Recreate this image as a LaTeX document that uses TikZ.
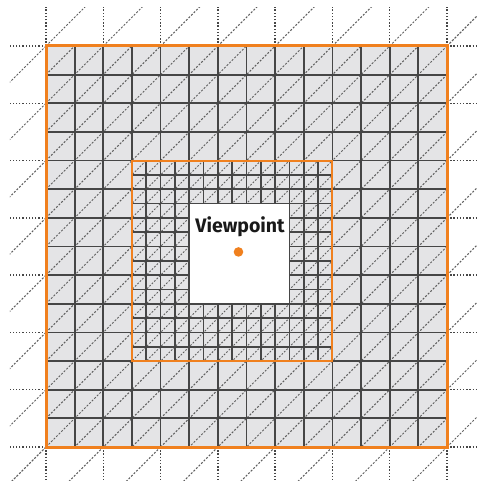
\documentclass[tikz,border=0pt]{standalone}
\usepackage{fontspec}
\newfontfamily\vpfont{Fira Sans}
\definecolor{vorange}{RGB}{240,128,30}
\definecolor{cellgray}{RGB}{228,228,230}
\definecolor{gridc}{RGB}{70,70,70}
\definecolor{diagc}{RGB}{95,95,95}
\definecolor{textc}{RGB}{25,25,25}
\begin{document}
\begin{tikzpicture}[x=28.643pt,y=-28.643pt,
 gridline/.style={draw=gridc,line width=1.8pt},
 diagline/.style={draw=diagc,line width=1pt,dash pattern=on 2pt off 1.6pt},
 outdot/.style={draw=gridc,line width=1.5pt,dash pattern=on 1.3pt off 1.9pt},
 outdiag/.style={draw=diagc,line width=1pt,dash pattern=on 2pt off 1.6pt},
 orangeframe/.style={draw=vorange,line width=3pt},
 innerframe/.style={draw=vorange,line width=2pt}]
\useasboundingbox (-1.606,-1.606) rectangle (15.047,15.187);
% outside coarse grid
\begin{scope}
\clip (-1.257,-1.327) rectangle (15.047,15.187);
\foreach \k in {0,2,...,14}{
 \draw[outdot] (\k,0) -- (\k,-1.5);
 \draw[outdot] (0,\k) -- (-1.5,\k);
 \draw[outdot] (14,\k) -- (15.5,\k);
 \draw[outdot] (\k,14) -- (\k,15.5);
 \draw[outdiag] (\k,0) -- ++(1.5,-1.5);
 \draw[outdiag] (0,\k) -- ++(-1.5,1.5);
 \draw[outdiag] (14,\k) -- ++(1.5,-1.5);
 \draw[outdiag] (\k,14) -- ++(-1.5,1.5);
}
\end{scope}
% outer ring
\fill[cellgray] (0,0) rectangle (14,14);
\begin{scope}
\clip (0,0) rectangle (14,14);
\foreach \c in {1,...,27} \draw[diagline] (0,\c) -- (\c,0);
\foreach \i in {1,...,13} {
 \draw[gridline] (\i,0) -- (\i,14);
 \draw[gridline] (0,\i) -- (14,\i);
}
\end{scope}
% inner refined region
\fill[cellgray] (3,4) rectangle (10,11);
\begin{scope}
\clip (3,4) rectangle (10,11);
\foreach \c in {7,7.5,...,21.2} \draw[diagline,line width=0.9pt,dash pattern=on 1.8pt off 1.6pt] (0,\c) -- (\c,0);
\foreach \i in {3.5,4,...,9.6} \draw[gridline,line width=1.6pt] (\i,4) -- (\i,11);
\foreach \j in {4.5,5,...,10.6} \draw[gridline,line width=1.6pt] (3,\j) -- (10,\j);
\end{scope}
\filldraw[fill=white,draw=gridc,line width=1.6pt] (5,5.5) rectangle (8.5,9);
\draw[innerframe] (3,4) rectangle (10,11);
\draw[orangeframe] (0,0) rectangle (14,14);
\fill[vorange] (6.72,7.19) circle (4.8pt);
\node[anchor=base,text=textc,inner sep=0pt,font=\vpfont\bfseries\fontsize{19.5}{22}\selectfont] (vp) at (6.774,6.494) {Viewpoint};
\end{tikzpicture}
\end{document}
